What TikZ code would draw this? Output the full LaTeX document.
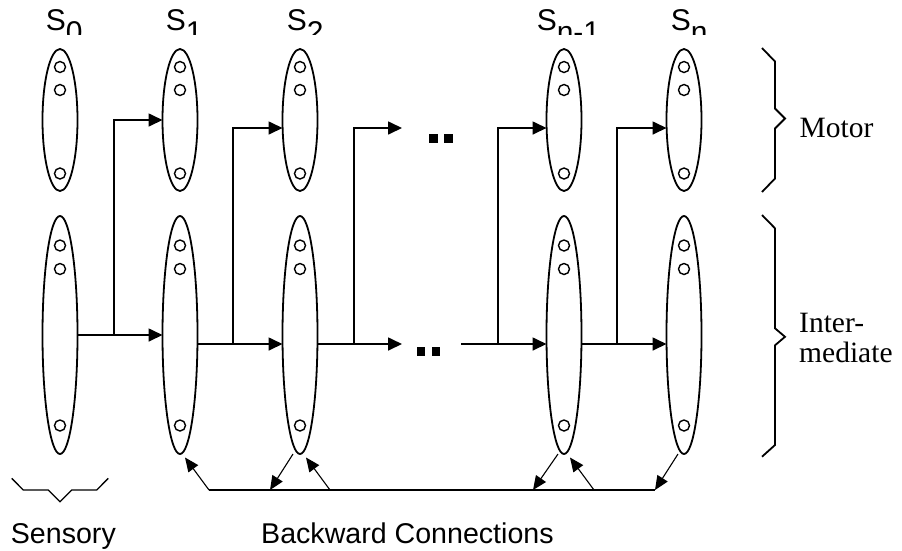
\documentclass[tikz,border=0pt]{standalone}
\usepackage{fontspec}
\setmainfont{Liberation Serif}
\newfontfamily\arialf{Liberation Sans}
\usetikzlibrary{shapes.geometric,arrows.meta}

\begin{document}
\begin{tikzpicture}[x=1pt,y=-1pt,
  layer/.style={ellipse, draw, line width=1.8pt, minimum width=35pt, inner sep=0pt, outer sep=0pt},
  motorcell/.style={layer, minimum height=142pt},
  midcell/.style={layer, minimum height=238pt},
  unit/.style={circle, draw, line width=1.4pt, minimum size=11pt, inner sep=0pt},
  fwd/.style={line width=1.7pt, -{Triangle[length=14pt,width=13pt]}},
  back/.style={line width=1.1pt, -{Triangle[length=14pt,width=12pt]}},
  brace/.style={line width=1.8pt, line join=miter},
  stagelab/.style={font=\arialf\fontsize{30pt}{34pt}\selectfont, inner sep=0pt, anchor=base west},
  sanslab/.style={font=\arialf\fontsize{28.6pt}{32pt}\selectfont, inner sep=0pt, anchor=base west},
  serlab/.style={font=\fontsize{29.5pt}{32pt}\selectfont, inner sep=0pt, anchor=base west},
  gap/.style={fill=black}
]
\useasboundingbox (0,0) rectangle (902,550);

% stage columns: motor layer (top) and intermediate layer (bottom)
\foreach \n/\x in {0/60,1/180,2/300,3/564,4/684} {
  \node[motorcell] (m\n) at (\x,120) {};
  \node[midcell] (i\n) at (\x,335) {};
  \node[unit] (m\n a) at (\x,67) {};
  \node[unit] (m\n b) at (\x,90) {};
  \node[unit] (m\n c) at (\x,173.5) {};
  \node[unit] (i\n a) at (\x,245.5) {};
  \node[unit] (i\n b) at (\x,269) {};
  \node[unit] (i\n c) at (\x,425.5) {};
}

% stage labels (subscripts cut off by the label strip)
\begin{scope}
  \clip (0,0) rectangle (902,34.5);
  \node[stagelab] (l0) at (45.6,30) {S\raisebox{-12pt}{0}};
  \node[stagelab] (l1) at (165.6,30) {S\raisebox{-12pt}{1}};
  \node[stagelab] (l2) at (286.6,30) {S\raisebox{-12pt}{2}};
  \node[stagelab] (l3) at (536.6,30) {S\raisebox{-12pt}{n-1}};
  \node[stagelab] (l4) at (670.6,30) {S\raisebox{-12pt}{n}};
\end{scope}

% junctions and free ends of the forward connections
\coordinate (j0) at (114,335);
\coordinate (j1) at (233,344);
\coordinate (j2) at (354,344);
\coordinate (j3) at (498,344);
\coordinate (j4) at (617,344);
\coordinate (t2) at (402,344);
\coordinate (u2) at (402,128);
\coordinate (s3) at (461,344);

% forward connections
\draw[fwd] (i0.east) -- (i1.west);
\draw[fwd] (j0) |- (m1.west);
\draw[fwd] ([yshift=-9pt]i1.east) -- ([yshift=-9pt]i2.west);
\draw[fwd] (j1) |- ([yshift=-8pt]m2.west);
\draw[fwd] ([yshift=-9pt]i2.east) -- (t2);
\draw[fwd] (j2) |- (u2);
\draw[fwd] (s3) -- ([yshift=-9pt]i3.west);
\draw[fwd] (j3) |- ([yshift=-8pt]m3.west);
\draw[fwd] ([yshift=-9pt]i3.east) -- ([yshift=-9pt]i4.west);
\draw[fwd] (j4) |- ([yshift=-8pt]m4.west);

% elided stages
\fill[gap] (429.3,134.3) rectangle (437.6,142.7);
\fill[gap] (444.3,134.3) rectangle (452.7,142.7);
\fill[gap] (416.7,347.3) rectangle (425,355.8);
\fill[gap] (431.7,347.3) rectangle (440.3,355.8);

% backward connections
\coordinate (bl) at (209,490);
\coordinate (br) at (655,490);
\coordinate (b2) at (270,490);
\coordinate (c2) at (330,490);
\coordinate (b3) at (533,490);
\coordinate (c3) at (594,490);
\draw[line width=1.1pt] (bl) -- (br);
\draw[back] (bl) -- ([xshift=5pt,yshift=-3.5pt]i1.south);
\draw[back] ([xshift=-7pt]i2.south) -- (b2);
\draw[back] (c2) -- ([xshift=6pt,yshift=-3.5pt]i2.south);
\draw[back] ([xshift=-6pt]i3.south) -- (b3);
\draw[back] (c3) -- ([xshift=6pt,yshift=-3.5pt]i3.south);
\draw[back] ([xshift=-6pt]i4.south) -- (br);

% group braces
\draw[brace] (762,48) -- (775,61.5) -- (775,108.5) -- (785,118.5) -- (775,128.5) -- (775,178.5) -- (762,192);
\draw[brace] (762,215) -- (775,228.3) -- (775,328.3) -- (785,336.8) -- (775,345.3) -- (775,445) -- (762,456.7);
\draw[line width=1.3pt, line join=miter] (11.7,478.3) -- (23.3,490) -- (48.3,490) -- (60,501.7) -- (71.7,490) -- (96.7,490) -- (108.3,478.3);

% group names
\node[serlab] (motor) at (799.5,137) {Motor};
\node[serlab] (inter) at (799,332.5) {Inter-};
\node[serlab] (mediate) at (799,362.5) {mediate};
\node[sanslab] (sensory) at (10.7,543) {Sensory};
\node[sanslab] (backward) at (261,543) {Backward Connections};
\end{tikzpicture}
\end{document}
